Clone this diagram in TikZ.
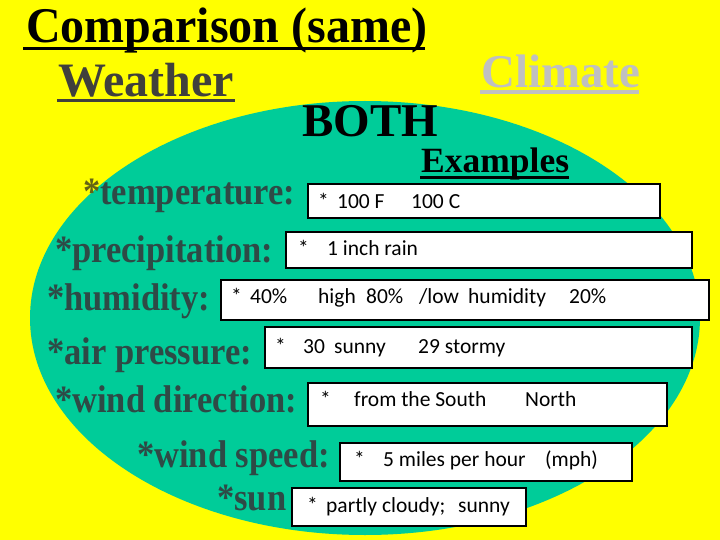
\documentclass[tikz,border=0pt]{standalone}
\usepackage{graphicx}
\usepackage{fontspec}
\setmainfont{Liberation Serif}
\newfontfamily\boxfont{Carlito}
\definecolor{bgyellow}{RGB}{255,255,0}
\definecolor{ovalgreen}{RGB}{0,204,153}
\definecolor{labcol}{RGB}{46,74,70}
\definecolor{weathercol}{RGB}{64,64,60}
\definecolor{climatecol}{RGB}{192,192,192}
\definecolor{starcol}{RGB}{100,100,20}
\newcommand{\tseg}[2]{\makebox[#1pt][l]{#2}}
\newcommand{\tall}[1]{\scalebox{1}[1.12]{#1}}
\tikzset{
  ttl/.style={anchor=base west, inner sep=0pt, font=\fontsize{48}{48}\selectfont\bfseries},
  lab/.style={anchor=base west, inner sep=0pt, text=labcol, font=\fontsize{34.5}{36}\selectfont\bfseries},
  boxst/.style={fill=white, draw=black, line width=1.1pt},
  btxt/.style={anchor=base west, inner sep=0pt, font=\fontsize{21.5}{22}\selectfont\boxfont},
}
\begin{document}
\begin{tikzpicture}[x=1pt,y=-1pt]
\useasboundingbox (0,0) rectangle (720,540);
\fill[bgyellow] (0,0) rectangle (720,540);
\fill[ovalgreen] (365,318) ellipse [x radius=335, y radius=217];

% titles
\node[ttl] (cmp) at (26,43) {\scalebox{1}[1.04]{Comparison (same)}};
\draw[line width=3pt] (23,48.5) -- (425,48.5);
\node[ttl, text=weathercol] (wth) at (58,97) {Weather};
\draw[weathercol, line width=3pt] (57,100.5) -- (235,100.5);
\node[ttl, text=climatecol, font=\fontsize{47}{47}\selectfont\bfseries] (clm) at (481,88) {Climate};
\draw[climatecol, line width=3.5pt] (480,92) -- (639,92);
\node[ttl, font=\fontsize{47}{47}\selectfont\bfseries] (both) at (302,137) {BOTH};
\node[ttl, font=\fontsize{35.5}{36}\selectfont\bfseries] (exa) at (421,173) {Examples};
\draw[line width=2.5pt] (420,177.5) -- (569,177.5);

% labels
\node[lab] (l1) at (83,205) {\tall{\textcolor{starcol}{*}temperature:}};
\node[lab] (l2) at (55,262) {\tall{*precipitation:}};
\node[lab] (l3) at (47,310) {\tall{*humidity:}};
\node[lab] (l4) at (47,364) {\tall{*air pressure:}};
\node[lab] (l5) at (55,412) {\tall{*wind direction:}};
\node[lab] (l6) at (137,467) {\tall{*wind speed:}};
\node[lab] (l7) at (217,510) {\tall{*sun}};

% boxes
\path[boxst] (308,184) rectangle (660,218);
\path[boxst] (286,232) rectangle (692,268);
\path[boxst] (221,280) rectangle (709,320);
\path[boxst] (265,327) rectangle (692,368);
\path[boxst] (308,383) rectangle (667,426);
\path[boxst] (340,443) rectangle (632,481);
\path[boxst] (292,488) rectangle (526,526);

% box texts
\node[btxt] (t1) at (318,208) {\tseg{19}{*}\tseg{74}{100 F}100 C};
\node[btxt] (t2) at (298,255) {\tseg{29}{*}1 inch rain};
\node[btxt] (t3) at (231,303) {\tseg{19}{*}\tseg{68}{40\%}\tseg{48}{high}\tseg{53}{80\%}\tseg{49}{/low}\tseg{101}{humidity}20\%};
\node[btxt] (t4) at (275,353) {\tseg{28}{*}\tseg{31}{30}\tseg{84}{sunny}29 stormy};
\node[btxt] (t5) at (320,406) {\tseg{34}{*}\tseg{171}{from the South}North};
\node[btxt] (t6) at (354,466) {\tseg{29}{*}\tseg{162}{5 miles per hour}(mph)};
\node[btxt] (t7) at (307,512) {\tseg{19}{*}\tseg{132}{partly cloudy;}sunny};
\end{tikzpicture}
\end{document}
